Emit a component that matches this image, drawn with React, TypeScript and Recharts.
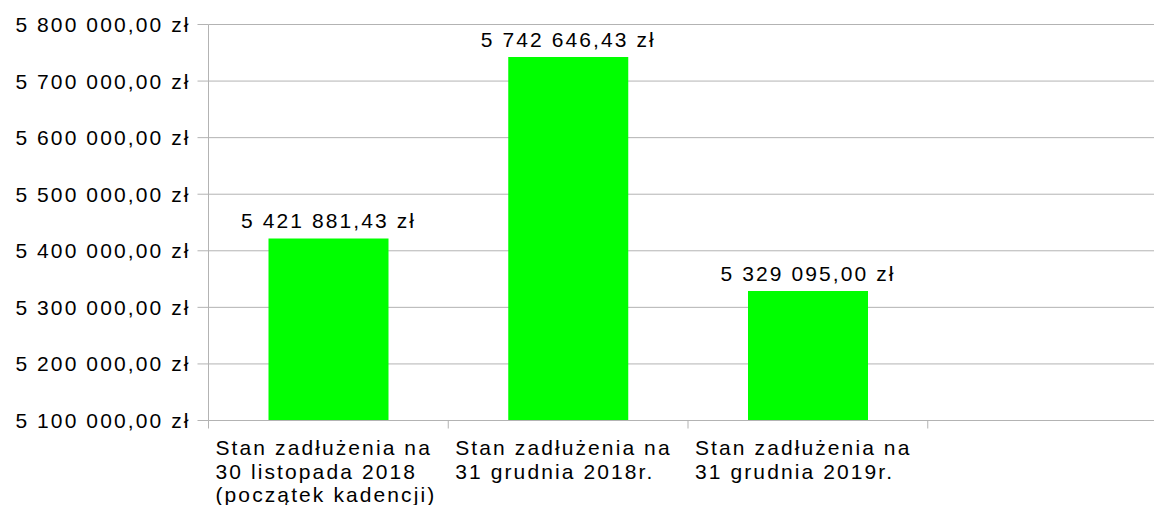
import { BarChart, Bar, XAxis, YAxis, CartesianGrid, LabelList } from "recharts";

const categories = [
  "Stan zadłużenia na\n30 listopada 2018\n(początek kadencji)",
  "Stan zadłużenia na\n31 grudnia 2018r.",
  "Stan zadłużenia na\n31 grudnia 2019r.",
  "",
];
const debtValues: (number | null)[] = [5421881.43, 5742646.43, 5329095.0, null];
const yTicks = [5100000, 5200000, 5300000, 5400000, 5500000, 5600000, 5700000, 5800000];

const data = categories.map((name, i) => ({ name, value: debtValues[i] }));

const FONT = "'Liberation Sans', Arial, sans-serif";
const GRID = "#b3b3b3";
const FS = 21;
const LS = 2.1;

const formatZl = (v: number) => {
  const [int, dec] = v.toFixed(2).split(".");
  return `${int.replace(/\B(?=(\d{3})+(?!\d))/g, " ")},${dec} zł`;
};

const CategoryTick = (props: any) => {
  const { x, y, payload } = props;
  const half = payload && payload.offset ? payload.offset : 120;
  const left = x - half;
  const lines = String(payload.value).split("\n");
  return (
    <g>
      <line x1={left} y1={y} x2={left} y2={y + 8} stroke={GRID} strokeWidth={1} />
      {lines.map((line: string, i: number) =>
        line ? (
          <text
            key={i}
            x={left + 7}
            y={y + 34.5 + i * 23.5}
            fontSize={FS}
            letterSpacing={LS}
            fill="#000"
            fontFamily={FONT}
          >
            {line}
          </text>
        ) : null
      )}
    </g>
  );
};

export default function App() {
  return (
    <div
      style={{
        position: "absolute",
        left: 0,
        top: 0,
        width: 1154,
        height: 505,
        overflow: "hidden",
        background: "#fff",
      }}
    >
      <BarChart
        width={1180}
        height={505}
        data={data}
        margin={{ top: 24.5, right: 12.5, left: 0.5, bottom: 0 }}
        barCategoryGap="25%"
      >
        <CartesianGrid vertical={false} stroke={GRID} />
        <XAxis
          dataKey="name"
          height={84.5}
          interval={0}
          tickLine={false}
          tickSize={0}
          tickMargin={0}
          axisLine={{ stroke: GRID }}
          tick={<CategoryTick />}
        />
        <YAxis
          width={208}
          domain={[5100000, 5800000]}
          ticks={yTicks}
          tickFormatter={formatZl}
          tickSize={11}
          tickMargin={7}
          axisLine={{ stroke: GRID }}
          tickLine={{ stroke: GRID }}
          tick={{ fontSize: FS, fill: "#000", fontFamily: FONT, letterSpacing: LS }}
          allowDataOverflow
        />
        <Bar dataKey="value" fill="#00ff00" barSize={120} isAnimationActive={false}>
          <LabelList
            dataKey="value"
            position="top"
            offset={10}
            formatter={(v: any) => (v == null ? "" : formatZl(Number(v)))}
            style={{ fontSize: FS, fill: "#000", fontFamily: FONT, letterSpacing: LS }}
          />
        </Bar>
      </BarChart>
    </div>
  );
}
